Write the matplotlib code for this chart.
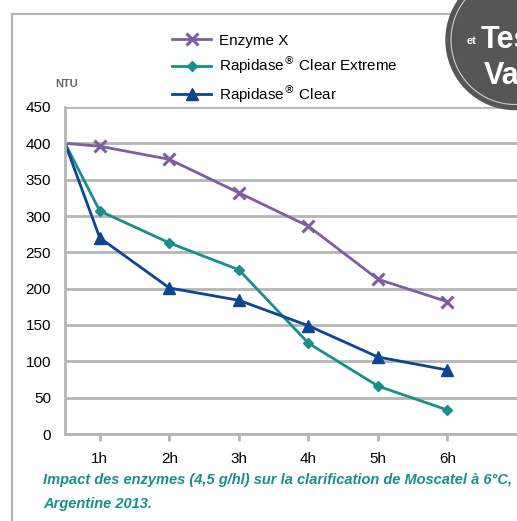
import matplotlib.pyplot as plt
from matplotlib.patches import Circle
from matplotlib.lines import Line2D

# donnees (NTU)
heures = [0.5, 1, 2, 3, 4, 5, 6]
etiquettes = ["1h", "2h", "3h", "4h", "5h", "6h"]
enzyme_x = [400, 396, 378, 332, 286, 213, 182]
clear_extreme = [400, 307, 263, 226, 125, 66, 33]
clear = [400, 270, 201, 184, 149, 106, 88]

violet = "#7d5ea6"
sarcelle = "#15908f"
bleu = "#0b4596"
gris = "#b5b5b5"

plt.rcParams["font.family"] = ["Liberation Sans", "DejaVu Sans"]

fig = plt.figure(figsize=(5.17, 5.21), dpi=100)
ax = fig.add_axes([65 / 517, 1 - 434 / 521, 1 - 65 / 517, (434 - 107) / 521])

pts = list(range(1, len(heures)))
ax.plot(heures, enzyme_x, color=violet, lw=2, marker="x", ms=9, mew=2.2,
        markevery=pts, label="Enzyme X")
ax.plot(heures, clear_extreme, color=sarcelle, lw=2, marker="D", ms=5,
        markevery=pts, label=r"Rapidase$^{\circledR}$ Clear Extreme")
ax.plot(heures, clear, color=bleu, lw=2, marker="^", ms=8,
        markevery=pts, label=r"Rapidase$^{\circledR}$ Clear")

ax.set_xlim(0.5, 7.0)
ax.set_ylim(0, 450)
ax.set_yticks(range(0, 451, 50))
ax.set_xticks(range(1, 7))
ax.set_xticklabels(etiquettes)
ax.grid(axis="y", color=gris, lw=2)
ax.set_axisbelow(True)
for s in ["top", "right"]:
    ax.spines[s].set_visible(False)
ax.spines["left"].set_color(gris)
ax.spines["left"].set_linewidth(2)
ax.spines["bottom"].set_color(gris)
ax.spines["bottom"].set_linewidth(2)
ax.tick_params(axis="y", length=0, labelsize=11, pad=10)
ax.tick_params(axis="x", length=5, width=2, color=gris, labelsize=11, pad=8)

# cadre gris
fig.add_artist(Line2D([12 / 517, 1], [1 - 14 / 521, 1 - 14 / 521], color=gris, lw=1.5))
fig.add_artist(Line2D([12 / 517, 12 / 517], [0, 1 - 14 / 521], color=gris, lw=1.5))

fig.text(55 / 517, 1 - 84 / 521, "NTU", fontsize=8, fontweight="bold", color="#666666",
         va="center")

fig.legend(loc="upper left", bbox_to_anchor=(158 / 517, 1 - 20 / 521), frameon=False,
           fontsize=11, handlelength=2.6, labelspacing=0.4, handletextpad=0.5)

# pastille en haut a droite
centre = (515 / 517, 1 - 40 / 521)
fig.add_artist(Circle(centre, 69 / 517, transform=fig.transFigure,
                      color="#565656", zorder=5))
fig.add_artist(Circle(centre, 64 / 517, transform=fig.transFigure, fill=False,
                      edgecolor="#cfcfcf", lw=0.8, zorder=6))
fig.text(467 / 517, 1 - 44 / 521, "et", color="white", fontsize=8, fontweight="bold", zorder=7)
fig.text(481 / 517, 1 - 48 / 521, "Tes", color="white", fontsize=22, fontweight="bold", zorder=7)
fig.text(484 / 517, 1 - 84 / 521, "Val", color="white", fontsize=22, fontweight="bold", zorder=7)

fig.text(43 / 517, 1 - 480 / 521, "Impact des enzymes (4,5 g/hl) sur la clarification de Moscatel à 6°C,",
         color=sarcelle, fontsize=10.5, fontweight="bold", style="italic", va="center")
fig.text(43 / 517, 1 - 504 / 521, "Argentine 2013.",
         color=sarcelle, fontsize=10.5, fontweight="bold", style="italic", va="center")

fig.savefig("out.png", dpi=100)
